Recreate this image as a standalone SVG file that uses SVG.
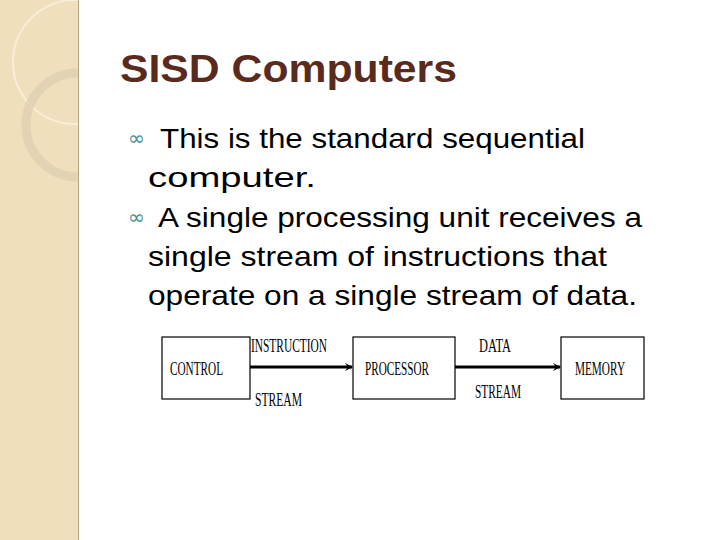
<svg xmlns="http://www.w3.org/2000/svg" width="720" height="540" viewBox="0 0 720 540">
<style>
.b{font-family:"Liberation Sans",Arial,sans-serif;font-size:28px;fill:#000}
.bl{font-family:"DejaVu Sans",sans-serif;font-size:20px;fill:#4a8f9a}
.d{font-family:"Liberation Serif",serif;font-size:18px;fill:#000}
.box{fill:#fff;stroke:#000;stroke-width:1.2}
.c{stroke:#000;stroke-width:3;fill:none}
</style>
<defs>
<marker id="a" markerWidth="8" markerHeight="8" refX="7" refY="4" orient="auto" markerUnits="userSpaceOnUse"><path d="M0,0 L8,4 L0,8 L3,4 Z" fill="#000"/></marker>
<clipPath id="cp"><rect x="0" y="0" width="78" height="540"/></clipPath>
</defs>
<rect width="720" height="540" fill="#fff"/>
<g id="strip">
<rect x="0" y="0" width="78" height="540" fill="#efdfbd"/>
<g clip-path="url(#cp)">
<circle cx="75" cy="62" r="62" fill="none" stroke="#f8eed8" stroke-width="2"/>
<circle cx="78" cy="125" r="52" fill="none" stroke="#ddd0b0" stroke-width="9" opacity="0.8"/>
</g>
<line x1="78.5" y1="0" x2="78.5" y2="540" stroke="#b8a888" stroke-width="1"/>
</g>
<g id="title"><text x="120" y="82" font-family="Liberation Sans,Arial,sans-serif" font-size="39" font-weight="bold" fill="#5a2a1c" textLength="337" lengthAdjust="spacingAndGlyphs">SISD Computers</text></g>
<g id="bullets">
<text class="bl" x="128" y="145">∞</text>
<text class="b" x="160" y="148" textLength="425" lengthAdjust="spacingAndGlyphs">This is the standard sequential</text>
<text class="b" x="148" y="187" textLength="168" lengthAdjust="spacingAndGlyphs">computer.</text>
<text class="bl" x="128" y="224">∞</text>
<text class="b" x="158" y="227" textLength="484" lengthAdjust="spacingAndGlyphs">A single processing unit receives a</text>
<text class="b" x="148" y="266" textLength="459" lengthAdjust="spacingAndGlyphs">single stream of instructions that</text>
<text class="b" x="148" y="305" textLength="489" lengthAdjust="spacingAndGlyphs">operate on a single stream of data.</text>
</g>
<g id="control"><rect class="box" x="162" y="337" width="88" height="62"/><text class="d" x="170" y="375" textLength="53" lengthAdjust="spacingAndGlyphs">CONTROL</text></g>
<g id="processor"><rect class="box" x="353" y="337" width="102" height="62"/><text class="d" x="365" y="375" textLength="64" lengthAdjust="spacingAndGlyphs">PROCESSOR</text></g>
<g id="memory"><rect class="box" x="561" y="337" width="83" height="62"/><text class="d" x="575" y="375" textLength="50" lengthAdjust="spacingAndGlyphs">MEMORY</text></g>
<g id="connectors">
<line class="c" x1="250" y1="367" x2="352" y2="367" marker-end="url(#a)"/>
<line class="c" x1="455" y1="367" x2="560" y2="367" marker-end="url(#a)"/>
<text class="d" x="251" y="352" textLength="76" lengthAdjust="spacingAndGlyphs">INSTRUCTION</text>
<text class="d" x="255" y="406" textLength="47" lengthAdjust="spacingAndGlyphs">STREAM</text>
<text class="d" x="479" y="352" textLength="32" lengthAdjust="spacingAndGlyphs">DATA</text>
<text class="d" x="475" y="398" textLength="46" lengthAdjust="spacingAndGlyphs">STREAM</text>
</g>
</svg>
